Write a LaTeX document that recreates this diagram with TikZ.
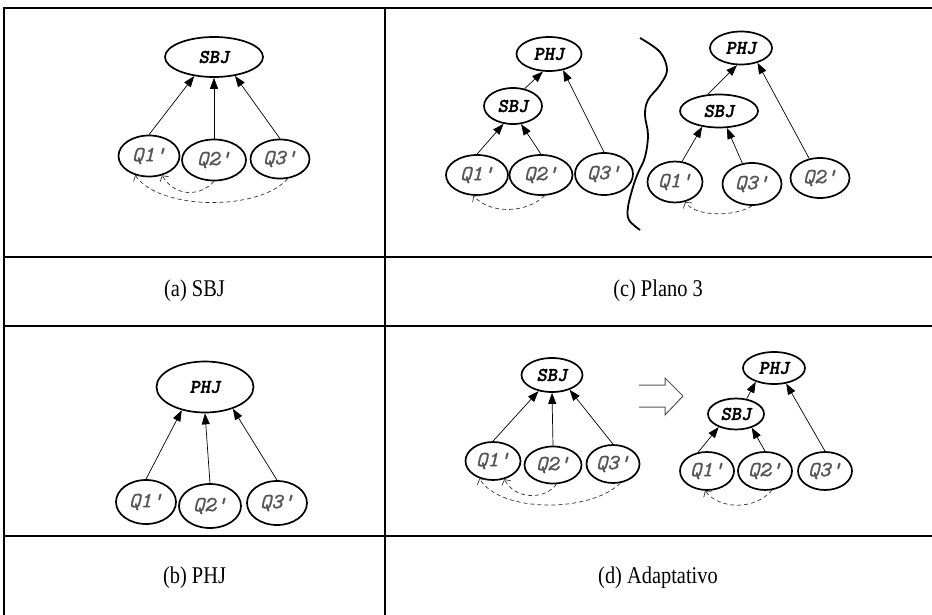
\documentclass[tikz,border=0pt]{standalone}
\usepackage{fontspec}
\setmainfont{Liberation Serif}
\newfontfamily\qfam{lmmono10-italic}[Extension=.otf, FakeBold=1.2]
\newfontfamily\jfam{lmmonolt10-boldoblique}[Extension=.otf, FakeBold=1.5]
\usetikzlibrary{shapes.geometric,arrows.meta}
\definecolor{qgray}{HTML}{555555}
\definecolor{dgray}{HTML}{333333}
\newcommand{\captext}[1]{\scalebox{0.85}[1]{#1}}
\tikzset{
  el/.style={ellipse, draw, line width=1.7pt, inner sep=0pt},
  qn/.style={el, font=\qfam\fontsize{21.5}{21.5}\selectfont, text=qgray},
  jn/.style={el, font=\jfam\fontsize{19.5}{19.5}\selectfont},
  arr/.style={line width=0.7pt, -{Triangle[length=11pt,width=8pt]}},
  dsh/.style={line width=0.7pt, draw=dgray, dash pattern=on 4pt off 3pt,
    -{Straight Barb[length=4pt,width=10pt]}},
  rule/.style={line width=2.4pt},
  vrule/.style={line width=1.5pt},
  captxt/.style={font=\fontsize{24}{28}\selectfont},
  hollow/.style={line width=1pt, draw=qgray},
}
\begin{document}
\begin{tikzpicture}[x=1pt,y=-1pt]
\useasboundingbox (0,0) rectangle (932,615);
% table
\draw[rule] (4,8) -- (932,8);
\draw[rule] (4,257) -- (932,257);
\draw[rule] (4,326) -- (932,326);
\draw[rule] (4,536) -- (932,536);
\draw[vrule] (4,7) -- (4,615);
\draw[vrule] (385,7) -- (385,615);
\node[captxt] (capa) at (194.5,291) {\captext{(a) SBJ}};
\node[captxt] (capc) at (658,291) {\captext{(c) Plano 3}};
\node[captxt] (capb) at (194.5,578) {\captext{(b) PHJ}};
\node[captxt] (capd) at (658,578) {\captext{(d) Adaptativo}};

% ---- panel (a)
\node[jn, minimum width=98pt, minimum height=40pt] (as) at (214,57) {SBJ};
\node[qn, minimum width=61pt, minimum height=41pt] (a1) at (149,156) {Q1'};
\node[qn, minimum width=64pt, minimum height=41pt] (a2) at (214,160) {Q2'};
\node[qn, minimum width=59pt, minimum height=39pt] (a3) at (280,159) {Q3'};
\draw[arr] (a1.north) -- (as.224);
\draw[arr] (a2.north) -- (as.south);
\draw[arr] (a3.north) -- (as.318);
\draw[dsh] (a2.south) .. controls (200,197) and (175,197) .. (a1.304);
\draw[dsh] (a3.291) .. controls (260,211) and (160,211) .. (a1.234);

% ---- panel (b)
\node[jn, minimum width=97pt, minimum height=51pt] (bp) at (205,387) {PHJ};
\node[qn, minimum width=60pt, minimum height=44pt] (b1) at (146,502) {Q1'};
\node[qn, minimum width=62pt, minimum height=44pt] (b2) at (210,506) {Q2'};
\node[qn, minimum width=60pt, minimum height=44pt] (b3) at (277,503) {Q3'};
\draw[arr] (b1.north) -- (bp.225);
\draw[arr] (b2.north) -- (bp.south);
\draw[arr] (b3.north) -- (bp.322);

% ---- panel (c) left
\node[jn, minimum width=65pt, minimum height=34pt] (cp) at (549,54) {PHJ};
\node[jn, minimum width=58pt, minimum height=36pt] (cs) at (513,106) {SBJ};
\node[qn, minimum width=62pt, minimum height=40pt] (c1) at (477,175) {Q1'};
\node[qn, minimum width=63pt, minimum height=40pt] (c2) at (541,175) {Q2'};
\node[qn, minimum width=58pt, minimum height=42pt] (c3) at (604,174) {Q3'};
\draw[arr] (cs.56) -- (cp.251);
\draw[arr] (c3.north) -- (cp.311);
\draw[arr] (c1.north) -- (cs.242);
\draw[arr] (c2.north) -- (cs.294);
\draw[dsh] (c2.280) .. controls (525,214) and (490,214) .. (c1.260);
% wavy separator
\draw[line width=1.8pt] plot[smooth, tension=0.6] coordinates
  {(640,38) (660,52) (667,70) (660,85) (648,100) (645,115) (648,135) (645,157) (638,173) (633,187) (628,207) (629,220) (640,230)};

% ---- panel (c) right
\node[jn, minimum width=62pt, minimum height=33pt] (cpr) at (741,48) {PHJ};
\node[jn, minimum width=78pt, minimum height=33pt] (csr) at (719,111) {SBJ};
\node[qn, minimum width=55pt, minimum height=41pt] (c1r) at (675,182) {Q1'};
\node[qn, minimum width=59pt, minimum height=42pt] (c3r) at (752,184) {Q3'};
\node[qn, minimum width=59pt, minimum height=40pt] (c2r) at (820,178) {Q2'};
\draw[arr] (csr.124) -- (cpr.257);
\draw[arr] (c2r.119) -- (cpr.318);
\draw[arr] (c1r.71) -- (csr.223);
\draw[arr] (c3r.115) -- (csr.295);
\draw[dsh] (c3r.south) .. controls (735,217) and (695,217) .. (c1r.297);

% ---- panel (d) left
\node[jn, minimum width=61pt, minimum height=34pt] (ds) at (552,375) {SBJ};
\node[qn, minimum width=55pt, minimum height=38pt] (d1) at (493,461) {Q1'};
\node[qn, minimum width=57pt, minimum height=37pt] (d2) at (553,465) {Q2'};
\node[qn, minimum width=53pt, minimum height=38pt] (d3) at (613,464) {Q3'};
\draw[arr] (d1.north) -- (ds.230);
\draw[arr] (d2.north) -- (ds.south);
\draw[arr] (d3.north) -- (ds.320);
\draw[dsh] (d2.280) .. controls (545,500) and (515,500) .. (d1.302);
\draw[dsh] (d3.291) .. controls (590,513) and (500,513) .. (d1.232);

% hollow arrow
\draw[hollow] (639,385) -- (665,385) -- (665,378) -- (683,396) -- (665,415) -- (665,407) -- (639,407);

% ---- panel (d) right
\node[jn, minimum width=62pt, minimum height=32pt] (dpr) at (774,368) {PHJ};
\node[jn, minimum width=56pt, minimum height=31pt] (dsr) at (736,414) {SBJ};
\node[qn, minimum width=54pt, minimum height=38pt] (d1r) at (707,471) {Q1'};
\node[qn, minimum width=54pt, minimum height=38pt] (d2r) at (765,471) {Q2'};
\node[qn, minimum width=54pt, minimum height=38pt] (d3r) at (825,471) {Q3'};
\draw[arr] (dsr.55) -- (dpr.217);
\draw[arr] (d3r.north) -- (dpr.308);
\draw[arr] (d1r.115) -- (dsr.217);
\draw[arr] (d2r.north) -- (dsr.319);
\draw[dsh] (d2r.290) .. controls (755,510) and (720,510) .. (d1r.264);
\end{tikzpicture}
\end{document}
